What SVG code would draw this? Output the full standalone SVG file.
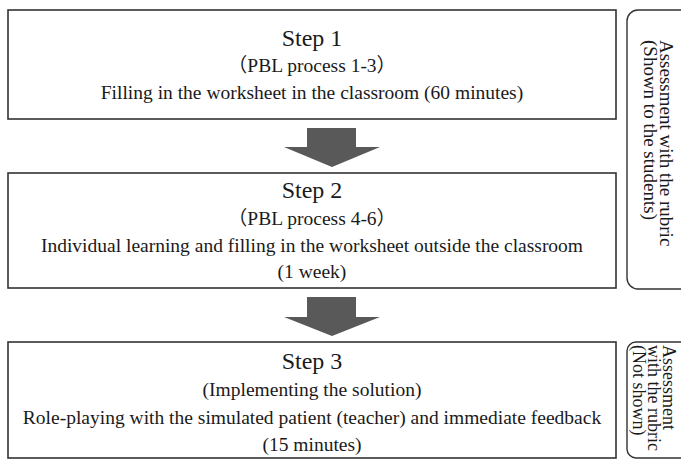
<svg xmlns="http://www.w3.org/2000/svg" width="681" height="459" viewBox="0 0 681 459">
  <style>
    .box { fill: #ffffff; stroke: #333333; stroke-width: 1.6; }
    .rbox { fill: #ffffff; stroke: #333333; stroke-width: 1.4; }
    .arrow { fill: #595959; stroke: none; }
    .txt { font-family: "Liberation Serif", "Times New Roman", "DejaVu Serif", "Noto Sans CJK JP", serif; fill: #1a1a1a; }
    .title { font-size: 24px; text-anchor: middle; }
    .body { font-size: 19.5px; text-anchor: middle; }
    .side { font-size: 19px; }
    .side-sm { font-size: 18px; }
  </style>
  <rect width="681" height="459" fill="#ffffff"/>

  <g class="txt">
    <!-- Step 1 -->
    <g id="step1">
      <rect class="box" x="8" y="10" width="608" height="109"/>
      <text class="title" x="312" y="46">Step 1</text>
      <text class="body" x="312" y="72">（PBL process 1-3）</text>
      <text class="body" x="312" y="99">Filling in the worksheet in the classroom (60 minutes)</text>
    </g>

    <!-- Step 2 -->
    <g id="step2">
      <rect class="box" x="8" y="173" width="608" height="115"/>
      <text class="title" x="312" y="198">Step 2</text>
      <text class="body" x="312" y="225">（PBL process 4-6）</text>
      <text class="body" x="312" y="252">Individual learning and filling in the worksheet outside the classroom</text>
      <text class="body" x="312" y="278">(1 week)</text>
    </g>

    <!-- Step 3 -->
    <g id="step3">
      <rect class="box" x="8" y="342" width="608" height="116"/>
      <text class="title" x="312" y="369">Step 3</text>
      <text class="body" x="312" y="396">(Implementing the solution)</text>
      <text class="body" x="312" y="424">Role-playing with the simulated patient (teacher) and immediate feedback</text>
      <text class="body" x="312" y="451">(15 minutes)</text>
    </g>

    <!-- Rubric assessment shown to the students (steps 1-2) -->
    <g id="rubric-shown">
      <rect class="rbox" x="627" y="10" width="70" height="279" rx="11" ry="11"/>
      <text class="side" transform="translate(660,40) rotate(90)">Assessment with the rubric</text>
      <text class="side" transform="translate(644,40) rotate(90)">(Shown to the students)</text>
    </g>

    <!-- Rubric assessment not shown (step 3) -->
    <g id="rubric-hidden">
      <rect class="rbox" x="627" y="342" width="70" height="116" rx="9" ry="9"/>
      <text class="side-sm" transform="translate(663,345) rotate(90)">Assessment</text>
      <text class="side-sm" transform="translate(648,345) rotate(90)">with the rubric</text>
      <text class="side-sm" transform="translate(633,345) rotate(90)">(Not shown)</text>
    </g>
  </g>

  <!-- Block arrows between steps -->
  <g id="connectors">
    <path class="arrow" d="M307,128 H356 V147 H380 L332,167 L284,147 H307 Z"/>
    <path class="arrow" d="M307,297 H356 V317 H380 L332,336 L284,317 H307 Z"/>
  </g>
</svg>
